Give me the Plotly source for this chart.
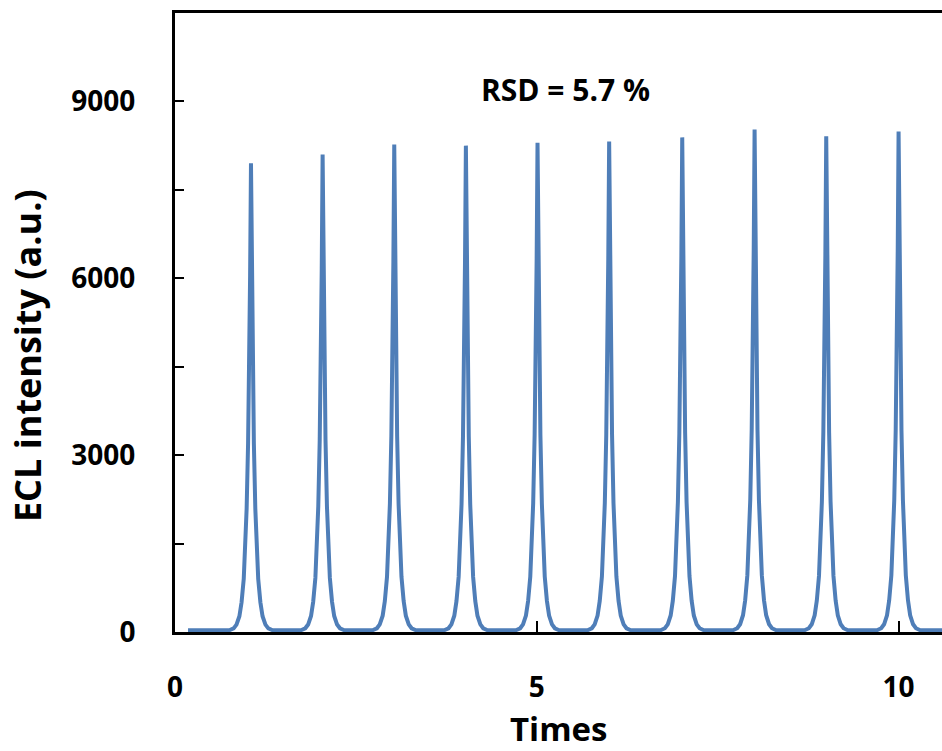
import plotly.graph_objects as go

# Peak positions (Times) and peak heights (a.u.)
peak_times = [1.05, 2.04, 3.03, 4.02, 5.01, 6.00, 7.01, 8.01, 9.00, 10.00]
peak_heights = [7920, 8070, 8240, 8220, 8270, 8290, 8360, 8495, 8380, 8460]

# Shape of one peak: offset from peak centre and fraction of peak height
profile_dx = [-0.30, -0.24, -0.20, -0.16, -0.13, -0.10, -0.08, -0.06, -0.04, -0.025, -0.012, 0.0,
              0.012, 0.025, 0.04, 0.06, 0.08, 0.10, 0.13, 0.16, 0.20, 0.24, 0.30]
profile_frac = [0.0, 0.004, 0.012, 0.03, 0.06, 0.11, 0.17, 0.26, 0.40, 0.56, 0.76, 1.0,
                0.76, 0.56, 0.40, 0.26, 0.17, 0.11, 0.06, 0.03, 0.012, 0.004, 0.0]

baseline = 30
trace_start = 0.18
trace_end = 10.6

x_tick_vals = [0, 5, 10]
x_tick_text = ["0", "5", "10"]
y_tick_vals = [0, 3000, 6000, 9000]
y_tick_text = ["0", "3000", "6000", "9000"]

xs = [trace_start]
ys = [baseline]
for c, h in zip(peak_times, peak_heights):
    for dx, f in zip(profile_dx, profile_frac):
        xs.append(c + dx)
        ys.append(baseline + h * f)
xs.append(trace_end)
ys.append(baseline)

FONT = "Open Sans"
fig = go.Figure()
fig.add_trace(go.Scatter(x=xs, y=ys, mode="lines",
                         line=dict(color="#4F7EB8", width=4, shape="linear"),
                         showlegend=False, hoverinfo="skip"))

fig.update_layout(
    width=942, height=751,
    margin=dict(l=175, r=0, t=13, b=119),
    paper_bgcolor="white", plot_bgcolor="white",
    font=dict(family=FONT, color="black"),
    xaxis=dict(range=[0, 10.6], showgrid=False, zeroline=False,
               showline=True, linecolor="black", linewidth=3, mirror=True,
               ticks="inside", ticklen=11, tickwidth=2, tickcolor="black",
               tickvals=x_tick_vals, ticktext=x_tick_text,
               tickfont=dict(family=FONT, size=28, weight="bold"),
               ticklabelstandoff=28),
    yaxis=dict(range=[0, 10500], showgrid=False, zeroline=False,
               showline=True, linecolor="black", linewidth=3,
               ticks="inside", ticklen=9, tickwidth=2, tickcolor="black",
               tickvals=y_tick_vals, ticktext=y_tick_text,
               tickfont=dict(family=FONT, size=28, weight="bold"),
               ticklabelstandoff=31,
               minor=dict(dtick=1500, tick0=0, ticks="inside", ticklen=9,
                          tickwidth=2, tickcolor="black", showgrid=False)),
    annotations=[
        dict(text="<b>RSD = 5.7 %</b>", x=5.4, y=9200, xref="x", yref="y",
             showarrow=False, font=dict(family=FONT, size=30, color="black"),
             xanchor="center", yanchor="middle"),
        dict(text="<b>Times</b>", x=0.5, y=-0.156, xref="paper", yref="paper",
             showarrow=False, font=dict(family=FONT, size=33, color="black"),
             xanchor="center", yanchor="middle"),
        dict(text="<b>ECL intensity (a.u.)</b>", x=-0.192, y=0.447, xref="paper", yref="paper",
             showarrow=False, textangle=-90, font=dict(family=FONT, size=36, color="black"),
             xanchor="center", yanchor="middle"),
    ],
)

fig.write_html("out.html")
